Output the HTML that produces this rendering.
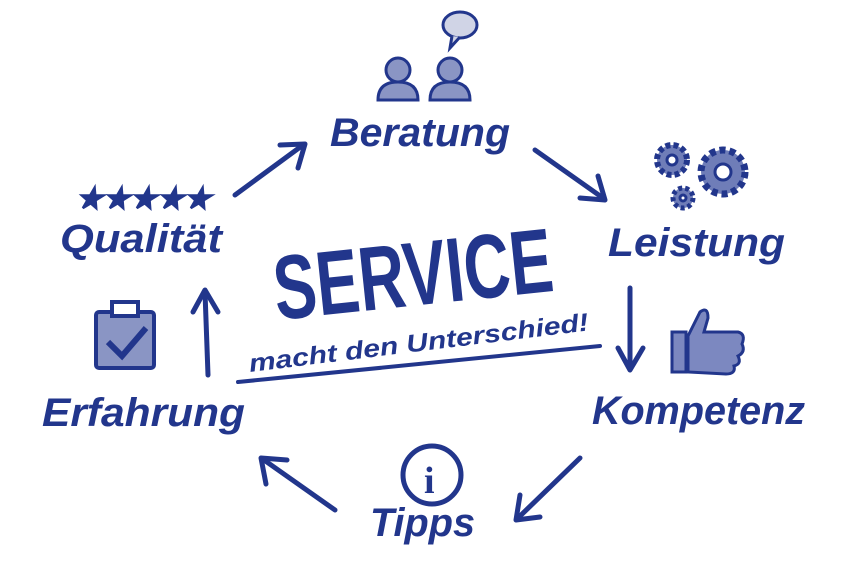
<!DOCTYPE html>
<html><head><meta charset="utf-8"><style>
html,body{margin:0;padding:0;background:#fff;width:849px;height:566px;overflow:hidden}
svg{display:block}
text{font-family:"Liberation Sans",sans-serif;fill:#22368c;font-weight:bold;font-style:italic}
</style></head><body>
<svg width="849" height="566" viewBox="0 0 849 566" xmlns="http://www.w3.org/2000/svg">
<g stroke="#22368c" stroke-width="5" fill="none" stroke-linecap="round" stroke-linejoin="round">
<path d="M235 195 L303 145"/><path d="M280 145 L305 144 L298 168"/>
<path d="M535 150 L603 198"/><path d="M580 198 L605 200 L598 176"/>
<path d="M630 288 L630 368"/><path d="M618 348 L630 370 L643 348"/>
<path d="M580 458 L518 518"/><path d="M520 495 L516 520 L540 517"/>
<path d="M335 510 L264 460"/><path d="M266 484 L261 458 L287 460"/>
<path d="M208 375 L205 292"/><path d="M193 312 L205 290 L218 312"/>
<path d="M238 382 L600 346" stroke-width="4"/>
</g>
<text x="330" y="146" font-size="40" textLength="180" lengthAdjust="spacingAndGlyphs">Beratung</text>
<text x="608" y="256" font-size="40" textLength="177" lengthAdjust="spacingAndGlyphs">Leistung</text>
<text x="592" y="424" font-size="40" textLength="213" lengthAdjust="spacingAndGlyphs">Kompetenz</text>
<text x="370" y="536" font-size="40" textLength="105" lengthAdjust="spacingAndGlyphs">Tipps</text>
<text x="42" y="426" font-size="40" textLength="203" lengthAdjust="spacingAndGlyphs">Erfahrung</text>
<text x="60" y="252" font-size="40" textLength="162" lengthAdjust="spacingAndGlyphs">Qualität</text>
<g transform="translate(277,320) rotate(-6) scale(1,1.3)">
<text x="0" y="0" font-size="70" textLength="280" lengthAdjust="spacingAndGlyphs" style="font-style:normal">SERVICE</text>
</g>
<g transform="translate(250,372) rotate(-7)">
<text x="0" y="0" font-size="25" textLength="342" lengthAdjust="spacingAndGlyphs">macht den Unterschied!</text>
</g>
<g fill="#8a95c4" stroke="#22368c" stroke-width="3">
<circle cx="398" cy="70" r="12"/><path d="M378 100 Q378 82 398 82 Q418 82 418 100 Z"/>
<circle cx="450" cy="70" r="12"/><path d="M430 100 Q430 82 450 82 Q470 82 470 100 Z"/>
<ellipse cx="460" cy="25" rx="17" ry="13" fill="#d0d4e6"/><path d="M452 36 L450 48 L460 37" fill="#d0d4e6"/>
</g>
<g fill="#6f7db8" stroke="#22368c" stroke-width="3">
<circle cx="672" cy="160" r="15" stroke-dasharray="5 3" stroke-width="6"/><circle cx="672" cy="160" r="5" fill="#fff"/>
<circle cx="723" cy="172" r="22" stroke-dasharray="6 4" stroke-width="7"/><circle cx="723" cy="172" r="8" fill="#fff"/>
<circle cx="683" cy="198" r="10" stroke-dasharray="4 3" stroke-width="5"/><circle cx="683" cy="198" r="3" fill="#fff"/>
</g>
<g font-size="28" style="font-style:normal">
<text x="77" y="208" fill="#9aa2c8" stroke="#22368c" stroke-width="1.5">★</text>
<text x="104" y="208" fill="#9aa2c8" stroke="#22368c" stroke-width="1.5">★</text>
<text x="131" y="208" fill="#9aa2c8" stroke="#22368c" stroke-width="1.5">★</text>
<text x="158" y="208" fill="#9aa2c8" stroke="#22368c" stroke-width="1.5">★</text>
<text x="185" y="208" fill="#9aa2c8" stroke="#22368c" stroke-width="1.5">★</text>
</g>
<g stroke="#22368c" stroke-width="4" fill="#8a95c4">
<rect x="96" y="312" width="58" height="56" rx="3"/>
<rect x="112" y="302" width="26" height="14" fill="#fff"/>
<path d="M108 342 L122 356 L146 328" fill="none" stroke-width="6"/>
</g>
<g stroke="#22368c" stroke-width="3" fill="#7c88c0">
<rect x="672" y="332" width="14" height="40"/>
<path d="M688 336 L700 312 Q708 306 708 318 L704 332 L738 332 Q746 334 742 344 Q746 352 738 356 Q742 364 734 366 Q736 374 726 374 L688 372 Z"/>
</g>
<g stroke="#22368c" stroke-width="5" fill="none">
<circle cx="432" cy="475" r="29"/>
</g>
<text x="424" y="493" font-size="38" style="font-style:normal;font-family:'Liberation Serif',serif">i</text>
</svg>
</body></html>
